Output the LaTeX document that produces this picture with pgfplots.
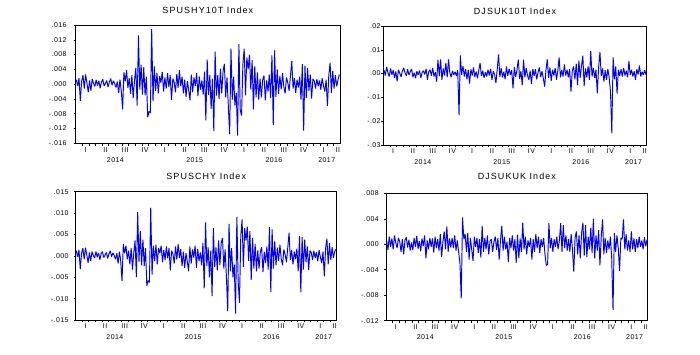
\documentclass[border=0pt]{standalone}
\usepackage{fontspec}
\setmainfont{Liberation Sans}
\newfontfamily\evtitle{Liberation Sans}[LetterSpace=12]
\newfontfamily\evtick{Liberation Sans}[LetterSpace=6]
\newfontfamily\evyear{Liberation Sans}[LetterSpace=15]
\usepackage{pgfplots}
\pgfplotsset{compat=1.18}
\usepackage{pgfplotstable}

% values in units of 0.001, one every 0.2 month from Jan 2014
\pgfplotstableread[row sep=\\,header=false]{
1.2\\ -0.5\\ 1.6\\ -4.5\\ 0.8\\
2.4\\ -1.2\\ 2.6\\ 0.3\\ -2.2\\
1.0\\ -1.8\\ 1.4\\ 0.2\\ -0.6\\
1.2\\ -0.4\\ 0.9\\ -1.1\\ 0.6\\
1.3\\ -0.5\\ 0.2\\ 1.0\\ -0.8\\
0.6\\ 1.5\\ -0.3\\ 0.9\\ 0.1\\
-0.9\\ 0.7\\ -2.4\\ 1.2\\ -1.8\\
-6.8\\ 3.2\\ 0.8\\ 3.8\\ -1.0\\
1.6\\ -2.6\\ 2.4\\ -3.8\\ 0.9\\
4.4\\ -5.8\\ 13.2\\ -1.5\\ 5.3\\
-2.8\\ 4.6\\ -3.0\\ 2.0\\ -8.9\\
-7.4\\ -7.8\\ 14.9\\ -4.6\\ 4.8\\
-1.8\\ 3.0\\ -2.5\\ 2.2\\ 0.4\\
3.3\\ -2.0\\ 1.8\\ -1.2\\ 3.0\\
-0.8\\ 2.4\\ -4.3\\ 1.5\\ 0.6\\
-2.2\\ 2.8\\ -1.0\\ 3.8\\ -0.6\\
2.0\\ -2.5\\ 1.2\\ -3.4\\ 0.8\\
-1.6\\ -4.4\\ 2.6\\ -2.2\\ 1.8\\
-0.5\\ 3.0\\ -3.2\\ 2.1\\ -1.5\\
1.0\\ -2.8\\ 3.4\\ -9.8\\ 6.6\\
-2.9\\ 2.5\\ -6.7\\ 1.5\\ -12.7\\
8.8\\ -3.1\\ 2.4\\ -4.0\\ 4.2\\
-2.5\\ 3.5\\ 5.5\\ -3.6\\ 1.8\\
-5.9\\ -13.5\\ 9.6\\ -4.2\\ 2.0\\
-5.8\\ -2.4\\ -13.9\\ 10.8\\ -7.0\\
-8.5\\ 5.2\\ 9.6\\ -3.0\\ 7.2\\
4.0\\ 8.0\\ -1.5\\ 6.5\\ -6.8\\
4.8\\ -3.6\\ 3.2\\ -4.2\\ 1.5\\
-3.6\\ 1.2\\ 2.3\\ -4.4\\ 1.0\\
-2.0\\ 2.6\\ -3.8\\ 7.8\\ -11.1\\
9.1\\ -3.5\\ 4.0\\ -2.6\\ 2.2\\
-1.4\\ 3.0\\ -0.8\\ -2.5\\ 1.8\\
0.4\\ -1.8\\ 2.2\\ 6.3\\ -1.2\\
1.6\\ -2.4\\ 1.2\\ -0.9\\ 2.0\\
-4.2\\ 5.4\\ -12.6\\ 5.0\\ -3.8\\
4.4\\ -1.8\\ 2.6\\ -3.9\\ 1.4\\
0.9\\ -1.2\\ 1.4\\ -0.6\\ 1.0\\
-1.5\\ 1.6\\ -0.4\\ -2.0\\ 1.2\\
-5.9\\ 2.2\\ 5.8\\ -2.4\\ 3.6\\
-1.2\\ 2.4\\ -0.6\\ 1.2\\ 2.6\\
}\spushy

\pgfplotstableread[row sep=\\,header=false]{
1.5\\ -0.8\\ 2.8\\ 0.4\\ -1.2\\
2.2\\ -0.5\\ 1.4\\ -1.8\\ 0.9\\
-3.2\\ 1.6\\ 0.2\\ -1.4\\ 1.1\\
2.4\\ 0.3\\ -0.9\\ 1.8\\ -0.6\\
0.8\\ 1.9\\ -1.5\\ 0.4\\ -2.0\\
1.0\\ -0.6\\ 1.3\\ -1.8\\ 0.5\\
1.2\\ -0.4\\ 2.0\\ -2.6\\ 0.8\\
1.6\\ -0.9\\ 2.4\\ -1.2\\ 0.6\\
-3.4\\ 5.8\\ -1.0\\ 6.0\\ -2.6\\
2.2\\ -0.8\\ 4.5\\ -1.6\\ 6.0\\
0.4\\ -1.5\\ 1.2\\ -0.6\\ 0.8\\
-1.0\\ 1.4\\ -17.4\\ 7.6\\ -0.5\\
3.2\\ -1.2\\ 2.0\\ -2.4\\ 1.5\\
-4.2\\ 1.8\\ -0.8\\ 2.6\\ -1.4\\
0.9\\ -2.0\\ 1.4\\ 4.5\\ -1.0\\
1.2\\ -1.8\\ 0.6\\ -1.2\\ 1.6\\
-0.8\\ 2.0\\ -2.6\\ 1.0\\ -0.4\\
-4.0\\ 1.8\\ 8.1\\ -1.5\\ 2.4\\
-1.6\\ 0.8\\ -2.4\\ 3.0\\ -1.0\\
2.0\\ -0.6\\ 1.4\\ -6.2\\ 2.8\\
-1.4\\ 1.5\\ 5.9\\ -2.2\\ 1.0\\
-4.8\\ 5.9\\ -1.6\\ 2.4\\ -0.8\\
-2.6\\ 1.2\\ -4.4\\ 2.0\\ -1.0\\
1.8\\ -2.4\\ 0.6\\ 2.6\\ -1.5\\
1.0\\ -2.0\\ -5.5\\ 1.4\\ 6.0\\
-1.8\\ 2.6\\ -3.0\\ 1.6\\ -0.8\\
2.4\\ -2.6\\ 1.2\\ 6.8\\ -1.6\\
1.4\\ -1.2\\ 3.8\\ -0.8\\ 1.6\\
-1.6\\ 2.0\\ -7.6\\ 1.2\\ 3.0\\
-2.4\\ 4.2\\ -4.8\\ 5.4\\ -1.8\\
3.2\\ 7.5\\ -5.2\\ 2.2\\ -1.6\\
3.0\\ -2.6\\ 9.5\\ -1.2\\ 2.4\\
-1.8\\ 1.6\\ -8.3\\ 2.8\\ 9.1\\
-1.0\\ 2.2\\ -3.4\\ 1.4\\ -2.6\\
2.0\\ -1.6\\ -7.5\\ -25.1\\ 6.8\\
-2.4\\ 3.0\\ -8.4\\ 1.6\\ -1.0\\
1.8\\ -1.2\\ 2.4\\ -0.8\\ 1.2\\
-1.6\\ 5.2\\ -0.6\\ 1.6\\ -1.2\\
1.0\\ -2.6\\ 1.8\\ -0.4\\ 3.4\\
-1.2\\ 0.8\\ -0.6\\ 1.4\\ -0.5\\
}\djsukten

\pgfplotstableread[row sep=\\,header=false]{
1.2\\ -0.3\\ 1.4\\ -3.1\\ 0.6\\
1.8\\ -0.8\\ 1.9\\ 0.2\\ -1.6\\
0.8\\ -1.2\\ 1.0\\ 0.1\\ -0.5\\
1.0\\ -0.3\\ 0.7\\ -0.9\\ 0.5\\
1.0\\ -0.4\\ 0.2\\ 0.8\\ -0.6\\
0.5\\ 1.2\\ -0.2\\ 0.7\\ 0.1\\
-0.8\\ 0.6\\ -1.8\\ 1.0\\ -1.2\\
-5.9\\ 2.8\\ 0.6\\ 2.4\\ -0.8\\
1.2\\ -2.0\\ 1.8\\ -3.2\\ 0.7\\
3.6\\ -5.0\\ 10.2\\ -1.4\\ 5.8\\
-2.2\\ 3.8\\ -2.4\\ 1.8\\ -7.0\\
-5.8\\ -6.2\\ 11.3\\ -4.4\\ 2.4\\
-1.2\\ 2.6\\ -2.0\\ 1.8\\ 0.6\\
2.4\\ -1.5\\ 1.4\\ -1.0\\ 2.2\\
-0.6\\ 1.8\\ -3.4\\ 1.2\\ 0.5\\
-1.8\\ 2.2\\ -0.9\\ 2.8\\ -0.5\\
1.6\\ -2.4\\ 1.0\\ -2.8\\ 0.6\\
-1.3\\ -3.6\\ 2.2\\ -1.8\\ 1.5\\
-0.4\\ 2.4\\ -2.8\\ 1.6\\ -1.2\\
0.8\\ -2.2\\ 3.0\\ -7.6\\ 7.8\\
-2.4\\ 2.0\\ -5.0\\ 1.2\\ -9.4\\
6.5\\ -2.6\\ 2.0\\ -3.4\\ 3.6\\
-2.2\\ 3.0\\ 4.2\\ -3.0\\ 1.5\\
-5.0\\ -12.9\\ 7.5\\ -3.6\\ 1.8\\
-5.0\\ -2.0\\ -13.5\\ 9.1\\ -6.0\\
-11.0\\ 4.6\\ 8.5\\ -2.6\\ 6.5\\
3.6\\ 6.8\\ -1.2\\ 5.8\\ -5.6\\
4.2\\ -3.0\\ 2.8\\ -3.6\\ 1.3\\
-3.0\\ 1.0\\ 2.0\\ -3.8\\ 0.9\\
-1.7\\ 2.2\\ -3.2\\ 6.7\\ -8.4\\
6.2\\ -3.0\\ 3.4\\ -2.2\\ 1.9\\
-1.2\\ 2.6\\ -0.7\\ -2.2\\ 1.5\\
0.3\\ -1.5\\ 1.9\\ 5.4\\ -1.0\\
1.4\\ -2.0\\ 1.0\\ -0.8\\ 1.7\\
-3.6\\ 4.6\\ -8.5\\ 4.4\\ -3.2\\
3.8\\ -1.5\\ 2.2\\ -3.3\\ 1.2\\
0.8\\ -1.0\\ 1.2\\ -0.5\\ 0.9\\
-1.3\\ 1.4\\ -0.3\\ -1.7\\ 1.0\\
-4.8\\ 1.8\\ 4.0\\ -2.0\\ 3.0\\
-1.0\\ 2.0\\ -0.5\\ 1.0\\ 1.6\\
}\spusch

\pgfplotstableread[row sep=\\,header=false]{
0.6\\ -0.9\\ 1.2\\ -0.4\\ 0.9\\
-0.8\\ 1.4\\ 0.2\\ -0.6\\ 1.0\\
0.4\\ -1.2\\ 0.8\\ -1.6\\ 0.6\\
1.1\\ -0.5\\ 0.7\\ -1.0\\ 0.3\\
-0.9\\ 1.0\\ -0.4\\ 1.3\\ -0.7\\
0.5\\ -1.1\\ 0.9\\ -0.3\\ 1.4\\
-2.2\\ 0.6\\ -0.8\\ 1.0\\ -0.4\\
0.9\\ -1.3\\ 1.2\\ -0.6\\ 0.8\\
-1.0\\ 1.6\\ -2.0\\ 0.4\\ 2.0\\
-0.8\\ 2.8\\ -1.2\\ 0.9\\ -0.5\\
1.0\\ -0.6\\ 1.4\\ -1.0\\ 0.6\\
-1.2\\ -2.9\\ -8.5\\ 4.2\\ 0.8\\
1.6\\ -1.2\\ 1.8\\ -2.4\\ 1.0\\
-0.8\\ -2.6\\ 1.2\\ -0.4\\ 1.0\\
-1.4\\ 0.8\\ -2.1\\ 2.9\\ -1.2\\
1.0\\ -0.8\\ 1.4\\ -1.6\\ 0.5\\
0.8\\ -1.2\\ 0.4\\ 1.2\\ -0.9\\
1.0\\ -2.4\\ 0.6\\ 2.9\\ -1.0\\
1.2\\ -0.8\\ 0.4\\ -2.8\\ 1.0\\
-0.6\\ 1.4\\ -1.0\\ 0.8\\ -2.9\\
1.5\\ -2.2\\ 0.9\\ -1.2\\ 3.4\\
-0.8\\ 1.2\\ -1.6\\ 0.6\\ -0.4\\
1.0\\ -2.4\\ 0.8\\ -1.2\\ 1.6\\
-0.6\\ 1.2\\ -1.4\\ 0.8\\ -0.4\\
1.0\\ -1.6\\ -3.3\\ -3.2\\ 3.3\\
-0.6\\ 1.0\\ -1.2\\ 0.8\\ -0.4\\
1.2\\ -0.8\\ 0.6\\ 3.3\\ -1.2\\
3.0\\ -0.6\\ 1.4\\ -1.0\\ 0.8\\
-1.2\\ 1.6\\ -0.8\\ -4.3\\ 1.0\\
2.0\\ -1.6\\ 1.4\\ -2.2\\ 1.8\\
3.4\\ -1.8\\ 3.0\\ -2.0\\ 1.2\\
-0.8\\ 2.6\\ -1.4\\ 4.0\\ -2.2\\
1.4\\ -1.0\\ 2.2\\ -3.3\\ 1.2\\
3.9\\ -1.6\\ 1.0\\ -1.4\\ 0.6\\
-0.8\\ 1.2\\ -2.2\\ -10.3\\ 1.8\\
-1.2\\ 1.4\\ -0.6\\ -4.2\\ 1.0\\
0.8\\ 3.9\\ -0.8\\ 1.6\\ -1.0\\
0.6\\ -1.2\\ 2.0\\ -0.8\\ 0.9\\
-1.2\\ 0.8\\ -0.6\\ 1.2\\ -0.4\\
0.6\\ -0.8\\ 1.1\\ -0.3\\ 0.7\\
}\djsukuk

\pgfplotsset{
  evaxis/.style={
    scale only axis, anchor=south west,
    xmin=0, xmax=40,
    axis line style={black, line width=0.6bp},
    tick align=outside, tick pos=left,
    scaled y ticks=false,
    major tick length=2bp, minor tick length=2.5bp,
    tick style={black, line width=0.5bp},
    xtick={1.5,4.5,7.5,10.5,13.5,16.5,19.5,22.5,25.5,28.5,31.5,34.5,37.5,39.7},
    xticklabels={I,II,III,IV,I,II,III,IV,I,II,III,IV,I,II},
    major x tick style={draw=none},
    minor xtick={1,2,...,39},
    extra x ticks={6,18,30,38},
    extra x tick labels={2014,2015,2016,2017},
    extra x tick style={tick label style={yshift=-10bp, font=\evyear\fontsize{7.5}{8}\selectfont}},
    xticklabel style={font=\evtick\fontsize{7}{8}\selectfont, inner sep=0pt, yshift=-2bp},
    yticklabel style={font=\evtick\fontsize{7}{8}\selectfont, inner sep=0pt},
    every axis title/.style={at={(0.5,1)}, anchor=base, inner sep=0pt, font=\evtitle\fontsize{9}{10}\selectfont},
    no markers,
    every axis plot/.append style={blue, line width=0.95bp, line join=miter, miter limit=2},
  }
}

\begin{document}
\begin{tikzpicture}
\path[use as bounding box] (0,0) rectangle (700bp,355bp);

\begin{axis}[evaxis, at={(75.7bp,211.7bp)}, width=264.3bp, height=118.3bp,
  ymin=-0.016, ymax=0.016,
  ytick={-0.016,-0.012,-0.008,-0.004,0,0.004,0.008,0.012,0.016},
  yticklabels={-.016,-.012,-.008,-.004,.000,.004,.008,.012,.016},
  yticklabel style={xshift=-7bp},
  title={SPUSHY10T Index}, every axis title/.append style={yshift=11.8bp}]
\addplot table[x index=0, y index=0, x expr=\coordindex*0.2+0.1, y expr=\thisrowno{0}/1000] {\spushy};
\end{axis}

\begin{axis}[evaxis, at={(383.3bp,210bp)}, width=263.4bp, height=119bp,
  ymin=-0.03, ymax=0.02,
  ytick={-0.03,-0.02,-0.01,0,0.01,0.02},
  yticklabels={-.03,-.02,-.01,.00,.01,.02},
  yticklabel style={xshift=-0.5bp},
  title={DJSUK10T Index}, every axis title/.append style={yshift=11.2bp}]
\addplot table[x index=0, y index=0, x expr=\coordindex*0.2+0.1, y expr=\thisrowno{0}/1000] {\djsukten};
\end{axis}

\begin{axis}[evaxis, at={(75.7bp,35bp)}, width=261bp, height=128.3bp,
  ymin=-0.015, ymax=0.015,
  ytick={-0.015,-0.010,-0.005,0,0.005,0.010,0.015},
  yticklabels={-.015,-.010,-.005,.000,.005,.010,.015},
  yticklabel style={xshift=-5bp},
  title={SPUSCHY Index}, every axis title/.append style={yshift=12.5bp}]
\addplot table[x index=0, y index=0, x expr=\coordindex*0.2+0.1, y expr=\thisrowno{0}/1000] {\spusch};
\end{axis}

\begin{axis}[evaxis, at={(386bp,34.3bp)}, width=261.7bp, height=127.4bp,
  ymin=-0.012, ymax=0.008,
  ytick={-0.012,-0.008,-0.004,0,0.004,0.008},
  yticklabels={-.012,-.008,-.004,.000,.004,.008},
  yticklabel style={xshift=-5bp},
  title={DJSUKUK Index}, every axis title/.append style={yshift=13.5bp}]
\addplot table[x index=0, y index=0, x expr=\coordindex*0.2+0.1, y expr=\thisrowno{0}/1000] {\djsukuk};
\end{axis}
\end{tikzpicture}
\end{document}
